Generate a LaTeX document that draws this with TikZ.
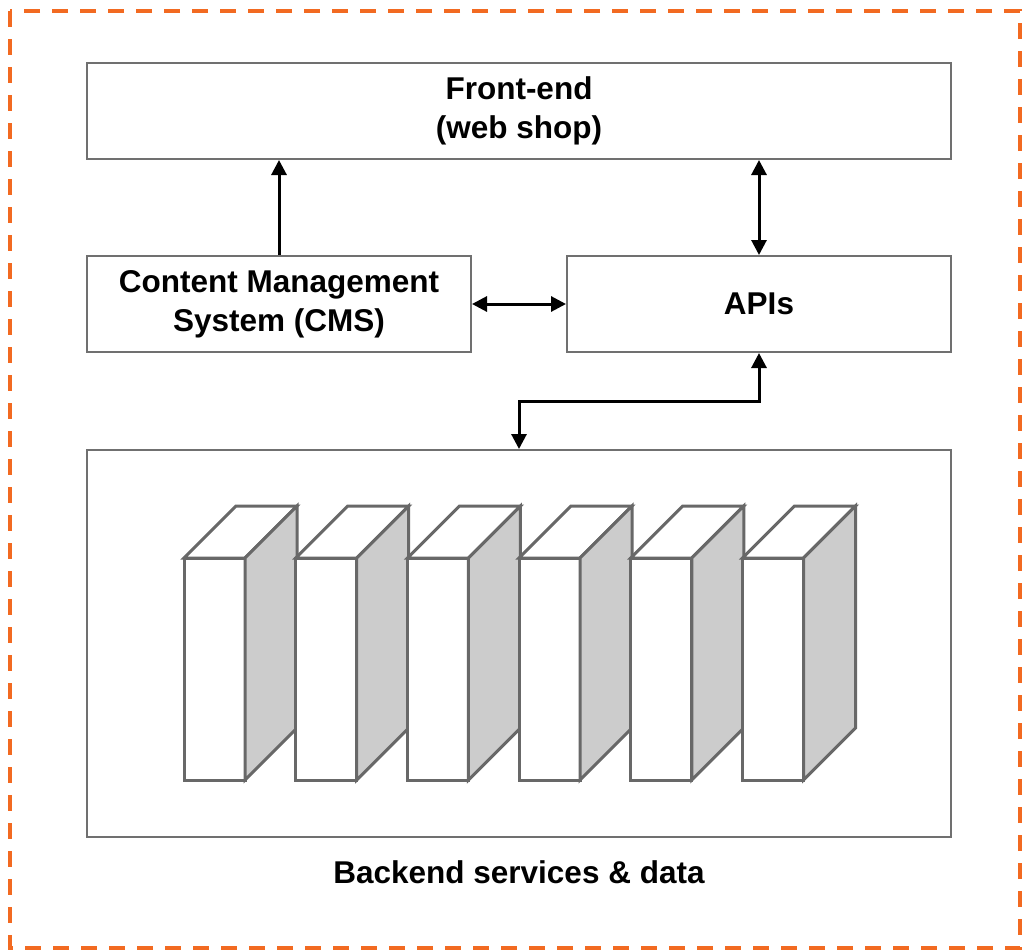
\documentclass[tikz,border=0pt]{standalone}
\usepackage{fontspec}
\setmainfont{Liberation Sans}
\usetikzlibrary{arrows.meta}
\definecolor{borderorange}{RGB}{242,106,33}
\definecolor{boxgray}{RGB}{112,112,112}
\definecolor{bookgray}{RGB}{104,104,104}
\definecolor{sidegray}{RGB}{204,204,204}
\begin{document}
\begin{tikzpicture}[x=1pt,y=-1pt,
  block/.style={draw=boxgray,line width=2pt,fill=white,inner sep=0pt,align=center,
    font=\fontsize{31.5}{39}\selectfont\bfseries},
  conn/.style={line width=3pt,black,arrows={-Triangle[length=15pt,width=15pt]}},
  biconn/.style={line width=3pt,black,arrows={Triangle[length=15pt,width=15pt]-Triangle[length=15pt,width=15pt]}},
  bookline/.style={draw=bookgray,line width=3pt,line join=miter},
  lbl/.style={font=\fontsize{31.5}{39}\selectfont\bfseries,inner sep=0pt}]
\useasboundingbox (0,0) rectangle (1023,951);
\draw[borderorange,line width=3.5pt,dash pattern=on 16pt off 12pt] (10,11) rectangle (1020,948);

\node[block,minimum width=864pt,minimum height=96pt] (front) at (519,111) {Front-end\\(web shop)};
\node[block,minimum width=384pt,minimum height=96pt] (cms) at (279,304) {Content Management\\System (CMS)};
\node[block,minimum width=384pt,minimum height=96pt] (apis) at (759,304) {APIs};
\node[block,minimum width=864pt,minimum height=387pt] (backend) at (519,643.5) {};
\node[lbl] (blabel) at (519,872) {Backend services \& data};

\foreach \i in {0,...,5}{
  \pgfmathsetmacro{\xa}{184+111.7*\i}
  \draw[bookline,fill=white] (\xa,558) -- (\xa+52,506) -- (\xa+113,506) -- (\xa+61,558) -- cycle;
  \draw[bookline,fill=white] (\xa,558) rectangle (\xa+61,780);
  \draw[bookline,fill=sidegray] (\xa+61,558) -- (\xa+113,506) -- (\xa+113,728) -- (\xa+61,780) -- cycle;
}

\coordinate (bend) at (759,401);
\draw[conn] (cms.north) -- (front.south -| cms.north);
\draw[biconn] (apis.north) -- (front.south -| apis.north);
\draw[biconn] (cms.east) -- (apis.west);
\draw[biconn] (apis.south) -- (bend) -| (backend.north);
\end{tikzpicture}
\end{document}
